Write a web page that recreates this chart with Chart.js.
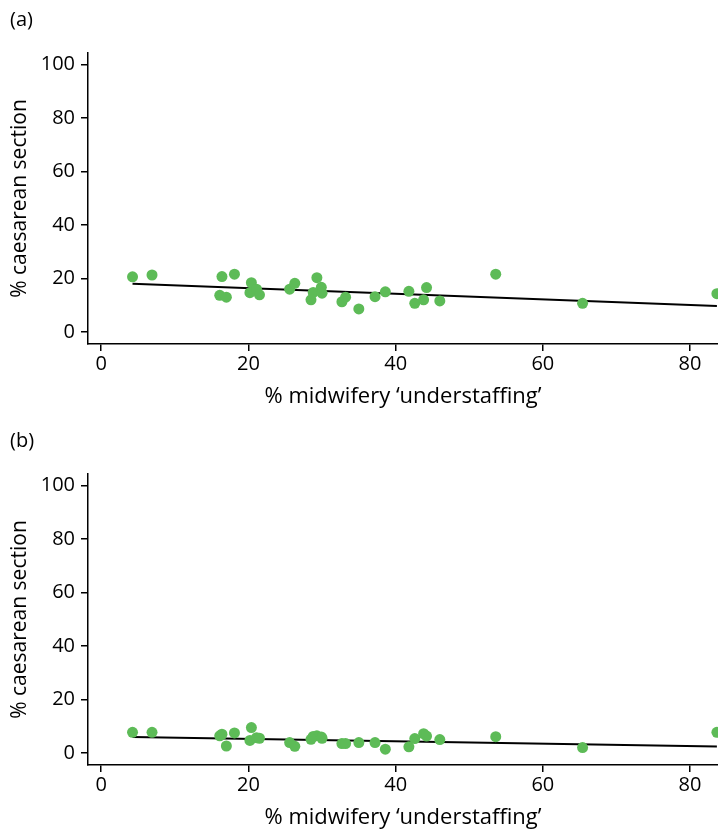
<!DOCTYPE html>
<html>
<head>
<meta charset="utf-8">
<script src="https://cdn.jsdelivr.net/npm/chart.js@4.4.1/dist/chart.umd.min.js"></script>
<style>
  html, body { margin: 0; padding: 0; background: #fff; overflow: hidden; }
  body { width: 718px; height: 832px; position: relative; font-family: "Open Sans", sans-serif; }
  .panel { position: absolute; left: 0; width: 718px; height: 421px; }
  .tag { position: absolute; left: 10px; font-size: 20px; color: #000; }
</style>
</head>
<body>
<div class="panel" style="top:0"><canvas id="chartA" width="718" height="421"></canvas></div>
<div class="panel" style="top:421px"><canvas id="chartB" width="718" height="421"></canvas></div>
<div class="tag" style="top:5px">(a)</div>
<div class="tag" style="top:426px">(b)</div>
<script>
// % midwifery understaffing for each unit (same units in both panels)
const understaffing = [4.25, 6.9, 16.4, 18.1, 16.1, 17.0, 20.4, 20.2, 21.1, 21.5,
  25.6, 26.3, 29.3, 29.9, 28.8, 30.0, 28.5, 32.7, 33.2, 35.0,
  37.2, 38.6, 41.8, 42.6, 43.8, 44.2, 46.0, 53.6, 65.4, 83.65];
// panel (a) % caesarean section
const caesarA = [20.6, 21.3, 20.7, 21.6, 13.7, 13.0, 18.4, 14.7, 16.0, 13.9,
  16.0, 18.2, 20.3, 16.7, 14.8, 14.5, 12.0, 11.3, 13.0, 8.6,
  13.2, 15.0, 15.2, 10.7, 12.0, 16.6, 11.6, 21.6, 10.7, 14.3];
// panel (b) % caesarean section
const caesarB = [7.7, 7.7, 7.0, 7.5, 6.4, 2.6, 9.5, 4.7, 5.7, 5.5,
  3.9, 2.5, 6.4, 6.0, 6.2, 5.5, 5.1, 3.5, 3.5, 3.9,
  3.9, 1.4, 2.3, 5.4, 7.2, 6.3, 5.0, 6.1, 2.0, 7.7];
// fitted lines
const trendX = [4.25, 83.65];
const trendA = [18.0, 9.7];
const trendB = [6.0, 2.4];
const xTicks = [0, 20, 40, 60, 80];
const yTicks = [0, 20, 40, 60, 80, 100];

const tickFont = { family: "'Open Sans', sans-serif", size: 20 };

function makeChart(id, yVals, trendY) {
  const pts = understaffing.map((x, i) => ({ x: x, y: yVals[i] }));
  const line = trendX.map((x, i) => ({ x: x, y: trendY[i] }));
  return new Chart(document.getElementById(id), {
    type: 'scatter',
    data: {
      datasets: [
        {
          data: pts,
          backgroundColor: '#5dbb57',
          borderWidth: 0,
          pointRadius: 5.5,
          pointHoverRadius: 5.5
        },
        {
          type: 'line',
          data: line,
          borderColor: '#000',
          borderWidth: 2,
          pointRadius: 0,
          fill: false
        }
      ]
    },
    options: {
      responsive: false,
      animation: false,
      events: [],
      layout: { autoPadding: false, padding: { top: 53, left: 0, right: 0, bottom: 0 } },
      plugins: { legend: { display: false }, tooltip: { enabled: false } },
      scales: {
        x: {
          type: 'linear',
          min: -1.8,
          max: 83.8,
          afterBuildTicks: s => { s.ticks = xTicks.map(v => ({ value: v })); },
          afterFit: s => { s.height = 77; },
          grid: { drawOnChartArea: false, drawTicks: true, tickLength: 7, color: '#000', lineWidth: 1.5 },
          border: { display: true, color: '#000', width: 1.5 },
          ticks: { color: '#000', font: tickFont, padding: 1, maxRotation: 0 },
          title: { display: true, text: '% midwifery \u2018understaffing\u2019', color: '#000',
                   font: { family: "'Open Sans', sans-serif", size: 22 }, padding: { top: 0, bottom: 11 } }
        },
        y: {
          type: 'linear',
          min: -4.5,
          max: 104.3,
          afterBuildTicks: s => { s.ticks = yTicks.map(v => ({ value: v })); },
          afterFit: s => { s.width = 88; },
          grid: { drawOnChartArea: false, drawTicks: true, tickLength: 7, color: '#000', lineWidth: 1.5 },
          border: { display: true, color: '#000', width: 1.5 },
          ticks: { color: '#000', font: tickFont, padding: 6 },
          title: { display: true, text: '% caesarean section', color: '#000',
                   font: { family: "'Open Sans', sans-serif", size: 21 }, padding: { top: 7.4, bottom: 0 } }
        }
      }
    }
  });
}

makeChart('chartA', caesarA, trendA);
makeChart('chartB', caesarB, trendB);
</script>
</body>
</html>
